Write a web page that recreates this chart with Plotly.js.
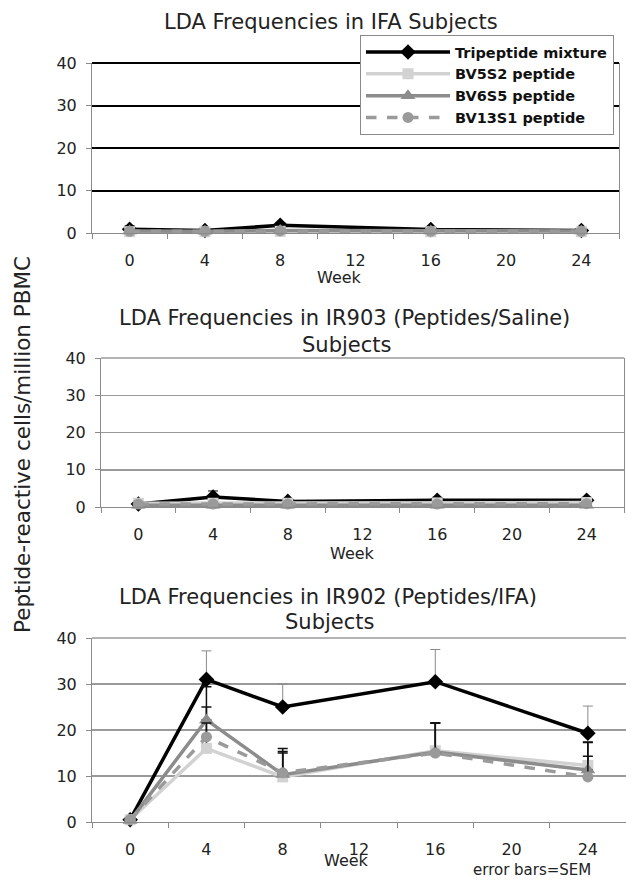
<!DOCTYPE html>
<html>
<head>
<meta charset="utf-8">
<script src="https://cdn.plot.ly/plotly-3.0.1.min.js"></script>
<style>html,body{margin:0;padding:0;background:#fff;}#chart{width:626px;height:882px;}</style>
</head>
<body>
<div id="chart"></div>
<script>
// ---------- DATA ----------
const weeks = [0, 4, 8, 16, 24];
const tickWeeks = [0, 4, 8, 12, 16, 20, 24];
const tickLabels = ['0', '4', '8', '12', '16', '20', '24'];
const yTicks = [0, 10, 20, 30, 40];
const seriesNames = ['Tripeptide mixture', 'BV5S2 peptide', 'BV6S5 peptide', 'BV13S1 peptide'];
const panelTitles = [
  ['LDA Frequencies in IFA Subjects'],
  ['LDA Frequencies in IR903 (Peptides/Saline)', 'Subjects'],
  ['LDA Frequencies in IR902 (Peptides/IFA)', 'Subjects']
];
const xTitle = 'Week';
const yTitle = 'Peptide-reactive cells/million PBMC';
const note = 'error bars=SEM';

// IFA subjects
const ifaTri  = [0.9, 0.6, 1.8, 0.8, 0.6];
const ifaBV5  = [0.3, 0.3, 0.4, 0.3, 0.3];
const ifaBV6  = [0.5, 0.4, 0.6, 0.5, 0.5];
const ifaBV13 = [0.4, 0.4, 0.5, 0.4, 0.4];
const ifaTriErr  = [0.8, 0.7, 0.6, 0.7, 0.7];
const ifaBV5Err  = [0.3, 0.3, 0.3, 0.3, 0.3];
const ifaBV6Err  = [0.3, 0.3, 0.3, 0.3, 0.3];
const ifaBV13Err = [0.3, 0.3, 0.3, 0.3, 0.3];

// IR903 (Peptides/Saline) subjects
const ir903Tri  = [0.8, 2.7, 1.5, 1.8, 1.8];
const ir903BV5  = [1.0, 1.0, 1.0, 1.1, 1.2];
const ir903BV6  = [0.5, 0.5, 0.5, 0.5, 0.5];
const ir903BV13 = [0.8, 0.8, 0.8, 0.8, 0.9];
const ir903TriErr  = [0.4, 1.6, 0.8, 0.8, 0.8];
const ir903BV5Err  = [0.5, 0.5, 0.5, 0.5, 0.5];
const ir903BV6Err  = [0.4, 0.4, 0.4, 0.4, 0.4];
const ir903BV13Err = [0.4, 0.4, 0.4, 0.4, 0.4];

// IR902 (Peptides/IFA) subjects
const ir902Tri  = [0.5, 31.0, 25.0, 30.5, 19.3];
const ir902BV5  = [0.5, 16.0, 9.8, 15.5, 12.3];
const ir902BV6  = [0.3, 22.2, 10.3, 15.2, 11.3];
const ir902BV13 = [0.5, 18.5, 10.7, 15.0, 9.8];
const ir902TriErr  = [0.3, 6.2, 5.0, 7.0, 5.9];
const ir902BV5Err  = [0.3, 13.4, 5.2, 6.0, 5.0];
const ir902BV6Err  = [0.3, 2.8, 5.7, 6.3, 6.1];
const ir902BV13Err = [0.3, 3.0, 4.6, 6.5, 4.5];

// ---------- STYLE ----------
const FONT = 'DejaVu Sans, Verdana, sans-serif';
const W = 626, H = 882;
const styles = [
  {color: '#000000', dash: 'solid', symbol: 'diamond', size: 12, width: 3.5},
  {color: '#d2d2d2', dash: 'solid', symbol: 'square', size: 11, width: 3.5},
  {color: '#8c8c8c', dash: 'solid', symbol: 'triangle-up', size: 13, width: 3.5},
  {color: '#9a9a9a', dash: 'dash', symbol: 'circle', size: 11, width: 3.5}
];
const panels = [
  {vals: [ifaTri, ifaBV5, ifaBV6, ifaBV13], errs: [ifaTriErr, ifaBV5Err, ifaBV6Err, ifaBV13Err],
   px: [92, 619], py: [233, 63], grid: '#000000', gridw: 2, triErrColor: '#000000'},
  {vals: [ir903Tri, ir903BV5, ir903BV6, ir903BV13], errs: [ir903TriErr, ir903BV5Err, ir903BV6Err, ir903BV13Err],
   px: [101, 624], py: [507, 358], grid: '#9a9a9a', gridw: 1.5, triErrColor: '#000000'},
  {vals: [ir902Tri, ir902BV5, ir902BV6, ir902BV13], errs: [ir902TriErr, ir902BV5Err, ir902BV6Err, ir902BV13Err],
   px: [92, 626], py: [822, 638], grid: '#9a9a9a', gridw: 1.5, triErrColor: '#8a8a8a'}
];

const traces = [];
const layout = {
  width: W, height: H,
  margin: {l: 0, r: 0, t: 0, b: 0},
  paper_bgcolor: '#ffffff', plot_bgcolor: '#ffffff',
  font: {family: FONT, color: '#222222'},
  showlegend: true,
  legend: {
    x: 360 / W, y: 1 - 35 / H, xanchor: 'left', yanchor: 'top',
    bgcolor: '#ffffff', bordercolor: '#8a8a8a', borderwidth: 1,
    font: {family: FONT, size: 14.5, color: '#111111', weight: 'bold'},
    itemwidth: 84, tracegroupgap: 0, traceorder: 'normal'
  },
  annotations: [],
  shapes: []
};

panels.forEach((p, i) => {
  const sfx = i === 0 ? '' : String(i + 1);
  layout['xaxis' + sfx] = {
    domain: [p.px[0] / W, Math.min(1, p.px[1] / W)], anchor: 'y' + sfx,
    range: [-2, 26], tickmode: 'array', tickvals: tickWeeks, ticktext: tickLabels,
    ticks: '', showgrid: false, zeroline: false,
    showline: true, linecolor: '#8a8a8a', linewidth: 1,
    tickfont: {family: FONT, size: 16, color: '#222222'},
    ticklabelstandoff: 13,
    minor: {tickvals: [-2, 2, 6, 10, 14, 18, 22, 26], ticks: 'outside', ticklen: 5, tickcolor: '#8a8a8a', tickwidth: 1, showgrid: false},
    fixedrange: true
  };
  layout['yaxis' + sfx] = {
    domain: [1 - p.py[0] / H, 1 - p.py[1] / H], anchor: 'x' + sfx,
    range: [0, 40], tickmode: 'array', tickvals: yTicks,
    ticks: 'outside', ticklen: 5, tickcolor: '#8a8a8a', tickwidth: 1,
    showgrid: true, gridcolor: p.grid, gridwidth: p.gridw, zeroline: false,
    showline: true, linecolor: '#8a8a8a', linewidth: 1, mirror: true,
    tickfont: {family: FONT, size: 16, color: '#222222'},
    ticklabelstandoff: 6,
    fixedrange: true
  };
  // top gridline at the axis maximum (Plotly hides the edge gridline)
  layout.shapes.push({type: 'line', xref: 'x' + sfx + ' domain', yref: 'y' + sfx + ' domain',
    x0: 0, x1: 1, y0: 1, y1: 1, layer: 'below', line: {color: p.grid, width: p.gridw}});
  p.vals.forEach((v, s) => {
    const st = styles[s];
    traces.push({
      type: 'scatter', mode: 'lines+markers',
      x: weeks, y: v, name: seriesNames[s],
      xaxis: 'x' + sfx, yaxis: 'y' + sfx,
      showlegend: i === 0, legendgroup: seriesNames[s],
      cliponaxis: false,
      line: {color: st.color, width: st.width, dash: st.dash},
      marker: {symbol: st.symbol, size: st.size, color: st.color, line: {width: 0}},
      error_y: {type: 'data', symmetric: false, array: p.errs[s], arrayminus: weeks.map(() => 0),
        color: s === 0 ? p.triErrColor : '#111111', thickness: s === 0 ? 1 : 1.5, width: 5}
    });
  });
});

function ann(text, x, y, size, extra) {
  return Object.assign({text: text, x: x / W, y: 1 - y / H, xref: 'paper', yref: 'paper',
    xanchor: 'center', yanchor: 'middle', showarrow: false,
    font: {family: FONT, size: size, color: '#222222'}}, extra || {});
}
layout.annotations.push(ann(panelTitles[0][0], 331, 22, 21));
layout.annotations.push(ann(panelTitles[1][0], 344, 318, 21));
layout.annotations.push(ann(panelTitles[1][1], 346, 345, 21));
layout.annotations.push(ann(panelTitles[2][0], 328, 597, 21));
layout.annotations.push(ann(panelTitles[2][1], 329, 622, 21));
layout.annotations.push(ann(xTitle, 339, 277, 16));
layout.annotations.push(ann(xTitle, 352, 553, 16));
layout.annotations.push(ann(xTitle, 346, 860, 16));
layout.annotations.push(ann(yTitle, 22, 445, 21.5, {textangle: -90}));
layout.annotations.push(Object.assign(ann(note, 532, 881, 15), {yanchor: 'bottom'}));

Plotly.newPlot('chart', traces, layout, {displayModeBar: false, staticPlot: true});
</script>
</body>
</html>
